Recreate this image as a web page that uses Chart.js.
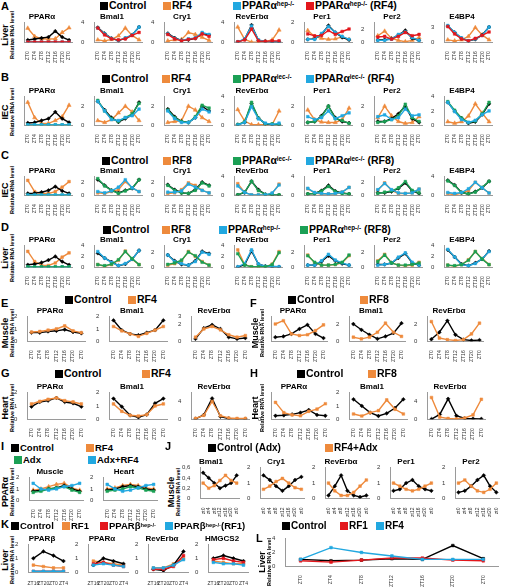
<!DOCTYPE html>
<html>
<head>
<meta charset="utf-8">
<script src="https://cdn.jsdelivr.net/npm/chart.js@4"></script>
<style>
body { margin: 0; background: #fff; font-family: Arial, "Liberation Sans", sans-serif; }
#fig { position: relative; width: 505px; height: 588px; overflow: hidden; background: #fff; }
.box { position: absolute; }
.lbl { position: absolute; font-weight: bold; white-space: nowrap; color: #000; line-height: 1; }
.sq { display: inline-block; width: 8px; height: 8px; margin-right: 1px; vertical-align: -1px; }
.side { position: absolute; transform: rotate(-90deg); transform-origin: left top; white-space: nowrap; font-weight: bold; text-align: center; line-height: 1; }
sup { font-size: 60%; vertical-align: 40%; }
</style>
</head>
<body>
<div id="fig"></div>
<script>
const ZT = ['ZT0', 'ZT4', 'ZT8', 'ZT12', 'ZT16', 'ZT20', 'ZT0'];
const ZTJ = ['zt0', 'zt4', 'zt8', 'zt12', 'zt16', 'zt20', 'zt0'];
const ZTK = ['ZT16', 'ZT20', 'ZT0', 'ZT4'];

// A - liver, RF4
const aGenes = ['PPARα', 'Bmal1', 'Cry1', 'RevErbα', 'Per1', 'Per2', 'E4BP4'];
const aMax = [3, 4, 4, 4, 2, 3, 4];
const aStep = [1, 2, 2, 2, 1, 1, 1];
const aCtrl = [
  [0.35, 0.5, 0.65, 0.8, 1.7, 0.8, 0.35],
  [3.0, 1.8, 0.8, 0.35, 0.8, 1.5, 3.1],
  [1.8, 0.9, 0.4, 0.5, 0.8, 1.8, 1.5],
  [0.1, 0.6, 3.5, 0.4, 0.2, 0.1, 0.1],
  [0.3, 0.35, 0.8, 1.7, 1.0, 0.5, 0.25],
  [0.35, 0.4, 0.55, 1.1, 1.8, 0.6, 0.3],
  [3.3, 2.0, 0.8, 0.3, 0.6, 1.5, 3.1]
];
const aRF4 = [
  [2.15, 0.9, 0.55, 0.5, 0.55, 1.5, 2.2],
  [0.5, 0.3, 0.6, 1.3, 2.9, 1.4, 0.5],
  [0.3, 0.5, 0.6, 2.0, 1.6, 1.0, 0.4],
  [3.1, 0.6, 0.05, 0.1, 0.2, 0.5, 2.5],
  [1.2, 0.6, 0.4, 0.3, 0.35, 0.55, 0.3],
  [1.0, 1.7, 0.6, 0.3, 0.1, 0.3, 0.7],
  [0.5, 0.3, 0.5, 1.2, 3.0, 1.5, 0.5]
];
const aHep = [
  [0.05, 0.05, 0.05, 0.05, 0.05, 0.05, 0.05],
  [2.9, 1.7, 0.8, 0.4, 0.9, 1.5, 3.1],
  [1.7, 0.8, 0.4, 0.7, 0.9, 2.0, 1.6],
  [0.1, 0.7, 3.3, 0.5, 0.2, 0.1, 0.1],
  [0.3, 0.3, 0.9, 1.6, 1.0, 0.6, 0.3],
  [0.3, 0.3, 0.5, 1.2, 1.6, 0.7, 0.3],
  [3.4, 2.0, 0.9, 0.3, 0.7, 1.4, 3.1]
];
const aHepRF4 = [
  [0.05, 0.05, 0.05, 0.05, 0.05, 0.05, 0.05],
  [2.9, 1.5, 0.7, 0.5, 0.7, 1.4, 2.0],
  [1.6, 0.7, 0.3, 0.6, 0.8, 1.7, 1.2],
  [0.1, 0.5, 2.7, 0.3, 0.2, 0.3, 0.3],
  [0.85, 0.65, 0.7, 1.2, 0.8, 1.1, 1.35],
  [0.8, 0.9, 0.5, 0.9, 1.5, 1.0, 1.2],
  [3.2, 1.7, 0.7, 0.3, 0.8, 1.4, 2.1]
];

// B - IEC, RF4
const bMax = [3, 3, 3, 4, 3, 3, 4];
const bStep = [1, 1, 1, 2, 1, 1, 1];
const bCtrl = [
  [0.25, 0.3, 0.5, 0.7, 1.4, 0.7, 0.3],
  [2.5, 1.6, 0.8, 0.35, 0.7, 1.1, 2.4],
  [1.7, 0.9, 0.4, 0.3, 0.8, 2.0, 1.5],
  [0.1, 0.4, 3.0, 1.0, 0.2, 0.1, 0.1],
  [0.3, 0.4, 1.0, 2.0, 0.8, 0.4, 0.25],
  [0.4, 0.4, 0.7, 1.2, 2.0, 0.7, 0.3],
  [3.2, 2.0, 1.0, 0.3, 0.5, 1.5, 3.0]
];
const bRF4 = [
  [2.4, 0.8, 0.2, 0.2, 0.5, 0.9, 2.1],
  [0.5, 0.3, 0.6, 1.3, 2.0, 1.4, 0.5],
  [0.3, 0.4, 0.5, 2.0, 1.6, 0.8, 0.4],
  [2.2, 0.6, 0.1, 0.1, 0.1, 0.1, 2.0],
  [1.6, 0.6, 0.35, 0.3, 0.3, 0.6, 1.8],
  [0.8, 2.0, 1.0, 0.4, 0.2, 0.3, 0.9],
  [0.5, 0.3, 0.5, 1.3, 3.0, 1.7, 0.5]
];
const bIec = [
  [0.05, 0.05, 0.05, 0.05, 0.05, 0.05, 0.05],
  [2.6, 1.5, 0.7, 0.4, 0.8, 1.2, 2.3],
  [1.6, 0.8, 0.4, 0.3, 0.9, 2.1, 1.8],
  [0.1, 0.5, 3.2, 1.0, 0.2, 0.2, 0.1],
  [0.3, 0.4, 0.9, 2.0, 0.7, 0.5, 0.2],
  [0.3, 0.4, 0.6, 1.0, 2.2, 0.8, 0.4],
  [3.3, 2.1, 1.0, 0.4, 0.6, 1.6, 3.2]
];
const bIecRF4 = [
  [0.05, 0.05, 0.05, 0.05, 0.05, 0.05, 0.05],
  [2.5, 1.5, 0.6, 0.5, 0.8, 1.0, 1.7],
  [1.5, 0.7, 0.3, 0.3, 0.8, 1.7, 1.4],
  [0.05, 0.4, 2.6, 0.9, 0.3, 0.1, 0.3],
  [0.9, 0.6, 0.8, 1.5, 0.7, 1.0, 1.3],
  [0.9, 1.1, 0.6, 0.8, 1.7, 1.0, 1.1],
  [3.2, 1.9, 0.8, 0.4, 0.7, 1.5, 2.0]
];

// C - IEC, RF8
const cMax = [3, 3, 3, 4, 4, 3, 4];
const cStep = [1, 1, 1, 2, 2, 1, 2];
const cCtrl = [
  [0.3, 0.35, 0.5, 0.8, 1.4, 0.7, 0.3],
  [2.5, 1.6, 0.8, 0.4, 0.8, 1.1, 2.5],
  [1.7, 0.9, 0.4, 0.3, 0.9, 2.1, 1.6],
  [0.1, 0.6, 3.0, 1.2, 0.2, 0.1, 0.05],
  [0.3, 0.4, 1.0, 2.1, 0.9, 0.5, 0.3],
  [0.4, 0.4, 0.6, 1.1, 2.0, 0.7, 0.3],
  [3.2, 2.2, 0.6, 0.3, 0.8, 1.6, 3.0]
];
const cRF8 = [
  [2.4, 0.6, 0.3, 0.3, 0.6, 1.3, 2.2],
  [0.4, 0.3, 0.6, 0.9, 2.2, 1.2, 0.6],
  [0.3, 0.4, 0.9, 2.0, 1.6, 0.8, 0.4],
  [2.5, 0.6, 0.1, 0.1, 0.1, 0.4, 2.4],
  [1.4, 0.5, 0.3, 0.3, 0.3, 0.7, 1.7],
  [0.8, 2.0, 0.8, 0.3, 0.3, 0.4, 1.0],
  [0.4, 0.1, 0.5, 1.0, 2.8, 1.6, 0.5]
];
const cIec = [
  [0.05, 0.05, 0.05, 0.05, 0.05, 0.05, 0.05],
  [2.7, 1.5, 0.8, 0.3, 0.7, 1.2, 2.5],
  [1.6, 0.8, 0.4, 0.3, 0.8, 2.0, 1.5],
  [0.1, 0.7, 3.0, 1.0, 0.2, 0.1, 0.1],
  [0.3, 0.4, 0.9, 1.9, 0.8, 0.4, 0.3],
  [0.3, 0.5, 0.7, 1.2, 2.2, 0.8, 0.4],
  [3.1, 2.1, 0.6, 0.3, 0.7, 1.7, 3.0]
];
const cIecRF8 = [
  [0.05, 0.05, 0.05, 0.05, 0.05, 0.05, 0.05],
  [0.6, 0.4, 0.7, 1.3, 2.5, 1.2, 0.6],
  [0.5, 0.5, 0.7, 1.8, 1.3, 0.8, 0.4],
  [2.0, 0.6, 0.1, 0.1, 0.1, 0.5, 2.2],
  [1.5, 0.6, 0.4, 0.3, 0.4, 0.7, 1.7],
  [0.9, 1.9, 0.9, 0.4, 0.3, 0.4, 1.0],
  [0.6, 0.4, 0.6, 1.4, 2.8, 1.6, 0.5]
];

// D - liver, RF8
const dMax = [3, 4, 3, 4, 3, 3, 4];
const dStep = [1, 1, 1, 2, 1, 1, 2];
const dCtrl = [
  [0.35, 0.45, 0.65, 1.0, 1.5, 0.8, 0.35],
  [2.6, 1.7, 1.0, 0.3, 0.6, 1.5, 3.1],
  [1.7, 0.9, 0.4, 0.3, 0.9, 2.2, 1.9],
  [0.05, 0.5, 3.0, 0.6, 0.2, 0.1, 0.1],
  [0.3, 0.3, 0.8, 1.6, 0.9, 0.5, 0.3],
  [0.4, 0.4, 0.6, 1.3, 1.9, 0.6, 0.3],
  [3.2, 1.9, 0.6, 0.3, 0.8, 1.5, 3.0]
];
const dRF8 = [
  [2.2, 0.8, 0.3, 0.25, 0.6, 1.4, 2.0],
  [0.5, 0.2, 0.5, 1.3, 3.0, 1.5, 0.5],
  [0.3, 0.5, 0.9, 2.2, 1.5, 0.8, 0.3],
  [3.2, 0.5, 0.1, 0.1, 0.1, 0.6, 2.9],
  [1.7, 0.6, 0.3, 0.3, 0.4, 0.6, 1.6],
  [0.9, 1.8, 0.6, 0.3, 0.2, 0.3, 0.7],
  [0.4, 0.2, 0.5, 1.4, 2.9, 1.6, 0.5]
];
const dHep = [
  [0.05, 0.05, 0.05, 0.05, 0.05, 0.05, 0.05],
  [2.9, 1.7, 0.9, 0.3, 0.7, 1.5, 3.1],
  [1.7, 0.8, 0.5, 0.3, 0.8, 2.1, 1.8],
  [0.1, 0.7, 3.2, 0.6, 0.2, 0.2, 0.1],
  [0.3, 0.3, 0.9, 1.8, 1.0, 0.6, 0.3],
  [0.3, 0.4, 0.6, 1.4, 2.0, 0.7, 0.3],
  [3.3, 1.9, 0.5, 0.3, 0.7, 1.6, 2.9]
];
const dHepRF8 = [
  [0.05, 0.05, 0.05, 0.05, 0.05, 0.05, 0.05],
  [0.5, 0.3, 0.6, 1.4, 2.9, 1.6, 0.5],
  [0.4, 0.6, 1.0, 2.1, 1.6, 0.7, 0.3],
  [2.5, 0.4, 0.1, 0.1, 0.1, 0.5, 2.7],
  [1.6, 0.7, 0.3, 0.3, 0.4, 0.7, 1.7],
  [0.8, 1.7, 0.6, 0.3, 0.3, 0.4, 0.6],
  [0.4, 0.3, 0.5, 1.3, 2.9, 1.5, 0.5]
];

// E/F muscle, G/H heart
const efgGenes = ['PPARα', 'Bmal1', 'RevErbα'];
const eMax = [2, 2, 3], eStep = [1, 1, 2];
const eCtrl = [[0.7, 0.7, 0.8, 0.85, 0.95, 0.75, 0.65], [1.7, 0.9, 0.6, 0.5, 0.7, 0.9, 1.7], [0.3, 1.6, 2.0, 1.5, 0.5, 0.3, 0.4]];
const eRF4 = [[0.75, 0.8, 0.9, 1.0, 1.25, 0.85, 0.7], [1.2, 0.85, 0.6, 0.4, 0.65, 0.9, 1.2], [0.5, 1.5, 1.8, 1.4, 0.8, 0.5, 0.7]];
const fMax = [1.5, 3, 3], fStep = [0.5, 1, 1];
const fCtrl = [[0.25, 0.3, 0.45, 0.75, 1.0, 0.45, 0.2], [2.1, 1.4, 0.8, 0.3, 0.6, 1.0, 2.2], [0.25, 1.1, 2.5, 0.8, 0.2, 0.1, 0.15]];
const fRF8 = [[1.05, 1.25, 0.45, 0.35, 0.4, 0.65, 1.0], [0.5, 0.3, 0.5, 1.1, 2.2, 1.1, 0.6], [2.4, 0.4, 0.2, 0.1, 0.2, 0.9, 2.2]];
const gMax = [2, 2, 6], gStep = [1, 1, 2];
const gCtrl = [[0.95, 1.3, 1.4, 1.6, 1.3, 1.2, 0.95], [1.55, 0.95, 0.3, 0.15, 0.35, 1.2, 1.55], [0.1, 1.0, 4.7, 0.6, 0.2, 0.1, 0.1]];
const gRF4 = [[1.15, 1.35, 1.5, 1.6, 1.4, 1.3, 1.15], [1.15, 0.6, 0.3, 0.25, 0.35, 1.0, 1.15], [0.2, 0.9, 4.0, 0.8, 0.3, 0.2, 0.2]];
const hMax = [6, 2, 6], hStep = [2, 0.5, 2];
const hCtrl = [[0.8, 0.9, 1.1, 1.5, 2.1, 1.0, 0.8], [1.5, 1.0, 0.5, 0.25, 0.45, 0.85, 1.5], [0.05, 1.1, 4.6, 0.8, 0.2, 0.15, 0.1]];
const hRF8 = [[3.8, 1.5, 1.0, 0.8, 1.8, 2.3, 3.5], [0.4, 0.25, 0.5, 0.65, 1.45, 0.75, 0.4], [4.9, 0.5, 0.2, 0.1, 0.3, 1.0, 4.5]];

// I - PPARa, adrenalectomy
const iGenes = ['Muscle', 'Heart'];
const iCtrl = [[0.8, 0.9, 1.0, 1.1, 1.3, 1.0, 0.8], [0.9, 1.0, 1.2, 1.3, 1.2, 1.0, 0.9]];
const iRF4 = [[0.9, 1.0, 1.2, 1.4, 1.5, 1.1, 0.9], [1.0, 1.1, 1.3, 1.4, 1.3, 1.1, 1.0]];
const iAdx = [[0.7, 0.8, 1.0, 1.1, 1.2, 0.9, 0.7], [0.8, 0.9, 1.0, 1.2, 1.1, 0.9, 0.8]];
const iAdxRF4 = [[1.5, 1.0, 0.9, 1.0, 1.2, 1.3, 1.5], [1.4, 1.0, 0.8, 0.9, 1.1, 1.3, 1.4]];

// J - muscle, adrenalectomy
const jGenes = ['Bmal1', 'Cry1', 'RevErbα', 'Per1', 'Per2'];
const jMax = [0.6, 2, 2, 2, 2], jStep = [0.2, 1, 1, 1, 1];
const jCtrl = [[0.5, 0.4, 0.3, 0.2, 0.25, 0.3, 0.45], [1.5, 1.2, 0.8, 0.5, 0.8, 1.2, 1.4], [0.2, 0.8, 1.5, 0.5, 0.2, 0.1, 0.2], [0.5, 0.6, 1.0, 1.2, 0.8, 0.6, 0.5], [0.4, 0.5, 0.8, 1.2, 1.5, 0.8, 0.4]];
const jRF4Adx = [[0.3, 0.2, 0.25, 0.35, 0.45, 0.35, 0.3], [0.6, 0.8, 1.1, 1.3, 1.0, 0.7, 0.6], [1.0, 0.5, 0.2, 0.2, 0.4, 0.8, 1.2], [1.0, 0.8, 0.6, 0.5, 0.6, 0.8, 1.0], [1.0, 1.2, 0.8, 0.5, 0.4, 0.6, 1.0]];

// K - liver, PPARb hep
const kGenes = ['PPARβ', 'PPARα', 'RevErbα', 'HMGCS2'];
const kMax = [2, 2, 2, 2], kStep = [1, 1, 1, 1];
const kCtrl = [[1.0, 1.5, 1.2, 0.8], [0.5, 1.0, 0.8, 0.6], [0.2, 0.1, 0.5, 1.5], [1.0, 1.2, 1.0, 0.8]];
const kRF1 = [[0.5, 0.4, 0.3, 0.3], [0.8, 0.7, 0.6, 0.5], [0.3, 0.3, 0.6, 1.0], [0.8, 0.7, 0.6, 0.6]];
const kHep = [[0.05, 0.05, 0.05, 0.05], [0.6, 0.7, 0.5, 0.4], [0.2, 0.2, 0.4, 1.2], [0.9, 1.0, 0.8, 0.7]];
const kHepRF1 = [[0.05, 0.05, 0.05, 0.05], [0.5, 0.6, 0.5, 0.4], [0.3, 0.3, 0.5, 0.9], [0.7, 0.6, 0.6, 0.5]];

// L - liver
const lCtrl = [1.0, 0.8, 0.9, 1.1, 1.0, 3.0, 1.1];
const lRF1 = [0.8, 0.6, 0.9, 1.2, 1.2, 0.9, 0.8];
const lRF4 = [1.0, 2.7, 2.0, 1.5, 1.0, 1.0, 1.0];

const BLACK = '#000000', ORANGE = '#EE8A3C', BLUE = '#22A8E0', RED = '#E3171C', GREEN = '#1BA055';
const S_CTRL = { c: BLACK, p: 'rectRot' };
const S_OR = { c: ORANGE, p: 'triangle' };
const S_ORSQ = { c: ORANGE, p: 'rect' };
const S_BLUE = { c: BLUE, p: 'rect' };
const S_RED = { c: RED, p: 'rect' };
const S_GREEN = { c: GREEN, p: 'rect' };

Chart.defaults.font.family = 'Arial, "Liberation Sans", sans-serif';
const fig = document.getElementById('fig');

function mk(x, y, w, h, title, labels, series, yMax, yStep, rot) {
  const d = document.createElement('div');
  d.className = 'box';
  d.style.cssText = `left:${x}px;top:${y}px;width:${w}px;height:${h}px`;
  const c = document.createElement('canvas');
  d.appendChild(c);
  fig.appendChild(d);
  const r = rot === undefined ? 90 : rot;
  new Chart(c, {
    type: 'line',
    data: {
      labels: labels,
      datasets: series.map(s => ({
        data: s.d,
        borderColor: s.c,
        backgroundColor: s.c,
        pointStyle: s.p,
        pointRadius: s.p === 'triangle' ? 2.4 : 1.9,
        pointBorderWidth: 0.5,
        borderWidth: 1.4,
        tension: 0
      }))
    },
    options: {
      responsive: true,
      maintainAspectRatio: false,
      animation: false,
      layout: { padding: { left: 0, right: 2, top: 0, bottom: 0 } },
      plugins: {
        legend: { display: false },
        tooltip: { enabled: false },
        title: {
          display: !!title, text: title, color: '#000',
          font: { size: 8, weight: 'bold' },
          padding: { top: 1, bottom: 1 }
        }
      },
      scales: {
        x: {
          offset: true,
          grid: { display: false },
          border: { color: '#9a9a9a' },
          ticks: { font: { size: 5 }, color: '#333', minRotation: r, maxRotation: r, autoSkip: false, padding: 1 }
        },
        y: {
          min: 0, max: yMax,
          grid: { display: false },
          border: { color: '#9a9a9a' },
          ticks: {
            stepSize: yStep, font: { size: 6 }, color: '#333', padding: 2,
            callback: v => String(Math.round(v * 100) / 100).replace('.', ',')
          }
        }
      }
    }
  });
}

function row(genes, maxes, steps, sets, x0, pitch, w, y, h, labels) {
  genes.forEach((g, i) => {
    mk(x0 + pitch * i, y, w, h, g, labels || ZT, sets.map(s => ({ c: s.st.c, p: s.st.p, d: s.arr[i] })), maxes[i], steps[i]);
  });
}

function txt(x, y, size, html) {
  const e = document.createElement('div');
  e.className = 'lbl';
  e.style.cssText = `left:${x}px;top:${y}px;font-size:${size}px`;
  e.innerHTML = html;
  fig.appendChild(e);
}

function leg(x, y, color, html, size) {
  txt(x, y, size || 10.5, `<span class="sq" style="background:${color}"></span>${html}`);
}

function side(x, yc, span, big, small) {
  const e = document.createElement('div');
  e.className = 'side';
  e.style.cssText = `left:${x}px;top:${yc + span / 2}px;width:${span}px`;
  e.innerHTML = `<div style="font-size:9px">${big}</div><div style="font-size:5.5px">${small}</div>`;
  fig.appendChild(e);
}

// panel A
txt(1, 1, 11, 'A');
leg(100, 0, BLACK, 'Control');
leg(163, 0, ORANGE, 'RF4');
leg(233, 0, BLUE, 'PPARα<sup>hep-/-</sup>');
leg(306, 0, RED, 'PPARα<sup>hep-/-</sup> (RF4)');
side(1, 35, 50, 'Liver', 'Relative RNA level');
row(aGenes, aMax, aStep, [
  { arr: aHepRF4, st: S_RED }, { arr: aHep, st: S_BLUE }, { arr: aCtrl, st: S_CTRL }, { arr: aRF4, st: S_OR }
], 9, 70, 68, 11, 53);

// panel B
txt(1, 72, 11, 'B');
leg(102, 73, BLACK, 'Control');
leg(162, 73, ORANGE, 'RF4');
leg(233, 73, GREEN, 'PPARα<sup>iec-/-</sup>');
leg(306, 73, BLUE, 'PPARα<sup>iec-/-</sup> (RF4)');
side(1, 112, 50, 'IEC', 'Relative RNA level');
row(aGenes, bMax, bStep, [
  { arr: bIecRF4, st: S_BLUE }, { arr: bIec, st: S_GREEN }, { arr: bCtrl, st: S_CTRL }, { arr: bRF4, st: S_OR }
], 9, 70, 68, 85, 62);

// panel C
txt(1, 150, 11, 'C');
leg(102, 155, BLACK, 'Control');
leg(163, 155, ORANGE, 'RF8');
leg(233, 155, GREEN, 'PPARα<sup>iec-/-</sup>');
leg(306, 155, BLUE, 'PPARα<sup>iec-/-</sup> (RF8)');
side(1, 190, 50, 'IEC', 'Relative RNA level');
row(aGenes, cMax, cStep, [
  { arr: cIecRF8, st: S_BLUE }, { arr: cIec, st: S_GREEN }, { arr: cCtrl, st: S_CTRL }, { arr: cRF8, st: S_ORSQ }
], 9, 70, 68, 165, 52);

// panel D
txt(1, 222, 11, 'D');
leg(103, 224, BLACK, 'Control');
leg(162, 224, ORANGE, 'RF8');
leg(219, 224, BLUE, 'PPARα<sup>hep-/-</sup>');
leg(300, 224, GREEN, 'PPARα<sup>hep-/-</sup> (RF8)');
side(1, 258, 50, 'Liver', 'Relative RNA level');
row(aGenes, dMax, dStep, [
  { arr: dHepRF8, st: S_GREEN }, { arr: dHep, st: S_BLUE }, { arr: dCtrl, st: S_CTRL }, { arr: dRF8, st: S_ORSQ }
], 9, 70, 68, 234, 55);

// panels E, F
txt(1, 298, 11, 'E');
leg(65, 294, BLACK, 'Control');
leg(128, 294, ORANGE, 'RF4');
side(1, 333, 50, 'Muscle', 'Relative RNA level');
row(efgGenes, eMax, eStep, [{ arr: eRF4, st: S_ORSQ }, { arr: eCtrl, st: S_CTRL }], 12, 82, 78, 305, 58);
txt(250, 298, 11, 'F');
leg(288, 294, BLACK, 'Control');
leg(360, 294, ORANGE, 'RF8');
side(251, 333, 50, 'Muscle', 'Relative RNA level');
row(efgGenes, fMax, fStep, [{ arr: fRF8, st: S_ORSQ }, { arr: fCtrl, st: S_CTRL }], 256, 78, 76, 305, 58);

// panels G, H
txt(1, 368, 11, 'G');
leg(55, 368, BLACK, 'Control');
leg(142, 368, ORANGE, 'RF4');
side(1, 408, 50, 'Heart', 'Relative RNA level');
row(efgGenes, gMax, gStep, [{ arr: gRF4, st: S_ORSQ }, { arr: gCtrl, st: S_CTRL }], 12, 82, 78, 381, 60);
txt(250, 368, 11, 'H');
leg(297, 368, BLACK, 'Control');
leg(368, 368, ORANGE, 'RF8');
side(251, 408, 50, 'Heart', 'Relative RNA level');
row(efgGenes, hMax, hStep, [{ arr: hRF8, st: S_ORSQ }, { arr: hCtrl, st: S_CTRL }], 256, 78, 78, 381, 60);

// panel I
txt(1, 441, 11, 'I');
leg(11, 443, BLACK, 'Control', 9.5);
leg(86, 443, ORANGE, 'RF4', 9.5);
leg(14, 455, GREEN, 'Adx', 9.5);
leg(88, 455, BLUE, 'Adx+RF4', 9.5);
side(1, 492, 50, 'PPARα', 'Relative RNA level');
row(iGenes, [2, 2], [1, 1], [
  { arr: iAdxRF4, st: S_BLUE }, { arr: iAdx, st: S_GREEN }, { arr: iCtrl, st: S_CTRL }, { arr: iRF4, st: S_OR }
], 14, 74, 74, 466, 56);

// panel J
txt(165, 441, 11, 'J');
leg(208, 443, BLACK, 'Control (Adx)', 10);
leg(325, 443, ORANGE, 'RF4+Adx', 10);
side(167, 492, 50, 'Muscle', 'Relative RNA level');
row(jGenes, jMax, jStep, [{ arr: jRF4Adx, st: S_ORSQ }, { arr: jCtrl, st: S_CTRL }], 180, 65, 64, 456, 62, ZTJ);

// panel K
txt(1, 519, 11, 'K');
leg(11, 521, BLACK, 'Control', 9.5);
leg(62, 521, ORANGE, 'RF1', 9.5);
leg(100, 521, RED, 'PPARβ<sup>hep-/-</sup>', 9.5);
leg(165, 521, BLUE, 'PPARβ<sup>hep-/-</sup>(RF1)', 9.5);
side(1, 560, 50, 'Liver', 'Relative RNA level');
kGenes.forEach((g, i) => {
  mk(13 + 60 * i, 533, 60, 55, g, ZTK, [
    { c: BLUE, p: 'rect', d: kHepRF1[i] }, { c: RED, p: 'rect', d: kHep[i] },
    { c: BLACK, p: 'rectRot', d: kCtrl[i] }, { c: ORANGE, p: 'rect', d: kRF1[i] }
  ], kMax[i], kStep[i], 0);
});

// panel L
txt(256, 533, 11, 'L');
leg(282, 521, BLACK, 'Control', 10);
leg(340, 521, RED, 'RF1', 10);
leg(376, 521, BLUE, 'RF4', 10);
side(258, 562, 50, 'Liver', 'Relative RNA level');
mk(270, 533, 233, 55, '', ZT, [
  { c: BLUE, p: 'rect', d: lRF4 }, { c: RED, p: 'rect', d: lRF1 }, { c: BLACK, p: 'rect', d: lCtrl }
], 4, 1);
</script>
</body>
</html>
